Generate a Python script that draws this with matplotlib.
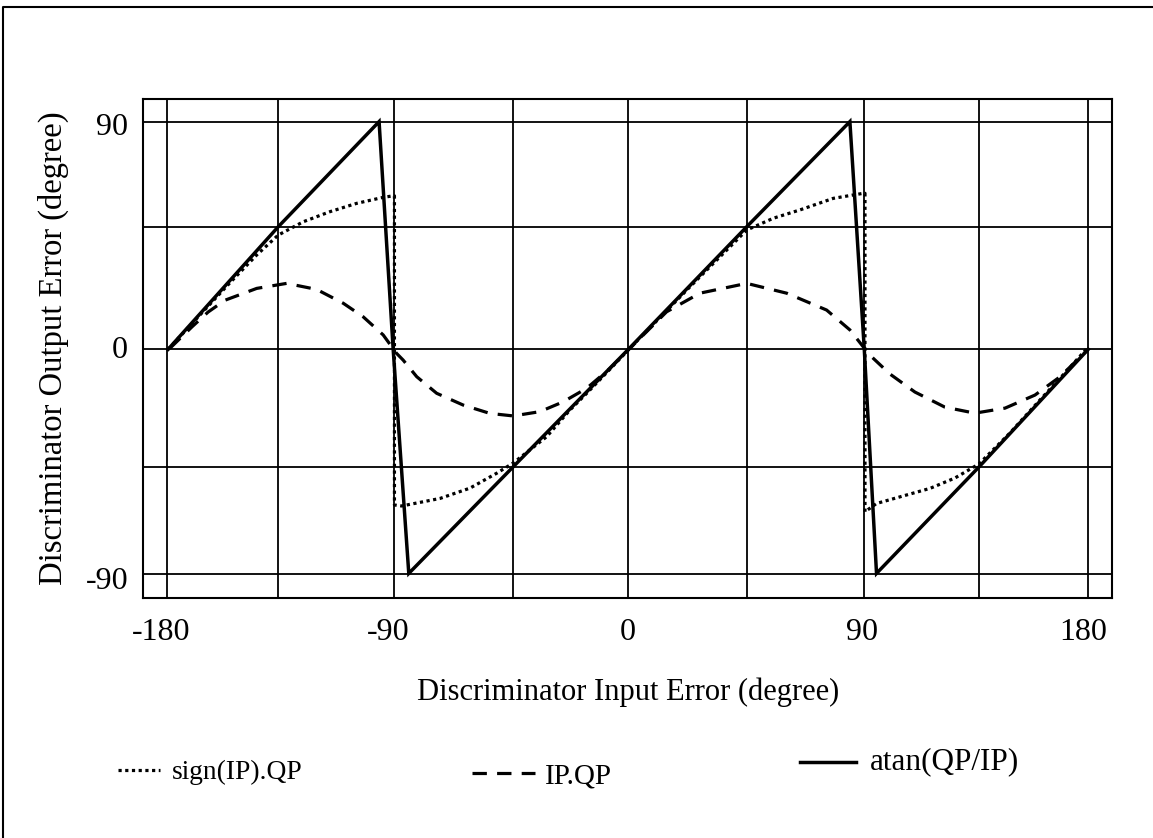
import matplotlib
matplotlib.use("Agg")
import matplotlib.pyplot as plt
from matplotlib.lines import Line2D

plt.rcParams['font.family'] = ['Liberation Serif', 'DejaVu Serif']

# ---- data (degrees) ----
atan_x = [-179.4, -136.4, -97.0, -91.5, -85.4, -44.6, 0.4, 46.6, 86.9, 92.5, 97.3, 137.4, 180.0]
atan_y = [-0.5, 48.2, 90.0, -0.5, -89.6, -47.2, -0.5, 48.2, 90.0, -0.1, -89.6, -47.2, -0.5]

sign_x = [-179.4, -167.0, -155.3, -144.8, -136.4, -126.6, -116.2, -105.8, -95.4, -91.5, -91.0,
          -91.0, -88.2, -73.2, -61.5, -51.1, -44.6, -31.6, -22.5, -15.9, -6.8, 0.3,
          24.4, 46.6, 57.0, 67.4, 80.4, 92.1, 92.8,
          92.8, 97.3, 118.2, 127.9, 137.3, 149.4, 161.1, 170.9, 180.0]
sign_y = [-0.5, 13.1, 25.9, 37.0, 44.9, 50.2, 54.2, 57.5, 59.9, 60.5, 60.5,
          -62.4, -62.8, -59.8, -55.7, -49.8, -45.7, -35.3, -24.7, -18.0, -8.4, -0.8,
          24.3, 46.9, 51.6, 54.9, 59.5, 61.5, 61.5,
          -65.1, -61.8, -55.8, -51.7, -46.1, -33.8, -20.7, -9.9, 0.4]

ipqp_x = [-178.7, -170.0, -163.8, -157.2, -144.8, -133.1, -121.4, -111.0, -103.2, -95.4, -90.2,
          -87.6, -82.3, -74.5, -64.1, -53.7, -44.6, -34.2, -25.1, -15.9, -6.8, 0.3,
          15.3, 28.3, 46.6, 62.2, 77.8, 86.9, 92.1,
          95.4, 102.5, 112.3, 124.0, 135.7, 147.5, 159.2, 168.9, 180.0]
ipqp_y = [-0.1, 8.5, 14.3, 19.0, 23.7, 25.7, 23.3, 17.8, 12.4, 5.2, -2.1,
          -4.8, -11.4, -18.0, -22.7, -26.0, -27.0, -25.3, -21.4, -16.0, -8.1, -0.8,
          14.4, 21.8, 25.7, 21.8, 15.1, 7.2, 0.5,
          -3.5, -10.3, -17.5, -23.5, -25.9, -23.9, -18.7, -11.5, -0.5]

xtick_labels = ['-180', '-90', '0', '90', '180']
ytick_labels = ['90', '0', '-90']
legend_labels = ['sign(IP).QP', 'IP.QP', 'atan(QP/IP)']
xlabel = 'Discriminator Input Error (degree)'
ylabel = 'Discriminator Output Error (degree)'

# ---- layout ----
W, H = 1153, 838
fig = plt.figure(figsize=(W / 100, H / 100), dpi=100)
ax = fig.add_axes([143.3 / W, 1 - 598.3 / H, (1112.3 - 143.3) / W, (598.3 - 99.5) / H])
ax.set_xlim(-189.1, 189.4)
ax.set_ylim(-99.5, 98.8)

# grid lines (positions as drawn in the picture)
xgrid = [-180, -136.4, -91.1, -44.6, 0.4, 46.8, 92.5, 137.4, 180]
ygrid = [90, 48.2, -0.5, -47.2, -90]
for gx in xgrid:
    ax.axvline(gx, color='black', lw=1.3, zorder=1)
for gy in ygrid:
    ax.axhline(gy, color='black', lw=1.3, zorder=1)

ax.plot(sign_x, sign_y, color='black', lw=2.3, linestyle=(0, (1, 1.1)), zorder=3)
ax.plot(ipqp_x, ipqp_y, color='black', lw=2.3, linestyle=(0, (4.5, 3.2)), zorder=3)
ax.plot(atan_x, atan_y, color='black', lw=2.5, solid_joinstyle='miter', zorder=4)

ax.set_xticks([-182.3, -93.6, 0.2, 91.6, 178.0])
ax.set_xticklabels(xtick_labels)
ax.set_yticks([89.0, 0.5, -91.5])
ax.set_yticklabels(ytick_labels)
ax.tick_params(axis='both', length=0, labelsize=23)
ax.tick_params(axis='x', pad=14)
ax.tick_params(axis='y', pad=11)
for s in ax.spines.values():
    s.set_linewidth(1.5)

fig.text(53 / W, 1 - 348.5 / H, ylabel, rotation=90, ha='center', va='center', fontsize=23.5)
fig.text(628 / W, 1 - 692 / H, xlabel, ha='center', va='center', fontsize=22)

# overlay in pixel coordinates for legend and frame
ov = fig.add_axes([0, 0, 1, 1], zorder=-1)
ov.set_xlim(0, W)
ov.set_ylim(H, 0)
ov.axis('off')
ov.plot([3, 3, W], [H, 7, 7], color='black', lw=1.5)

ov.add_line(Line2D([118, 160], [770, 770], color='black', lw=2.3, linestyle=(0, (1, 1.1))))
ov.text(172, 772, legend_labels[0], ha='left', va='center', fontsize=19.8)
ov.add_line(Line2D([472, 535], [773, 773], color='black', lw=2.3, linestyle=(0, (4.5, 3.2))))
ov.text(545, 776, legend_labels[1], ha='left', va='center', fontsize=21)
ov.add_line(Line2D([800, 856], [762, 762], color='black', lw=2.5))
ov.text(870, 762, legend_labels[2], ha='left', va='center', fontsize=22.5)

fig.savefig('out.png', dpi=100)
